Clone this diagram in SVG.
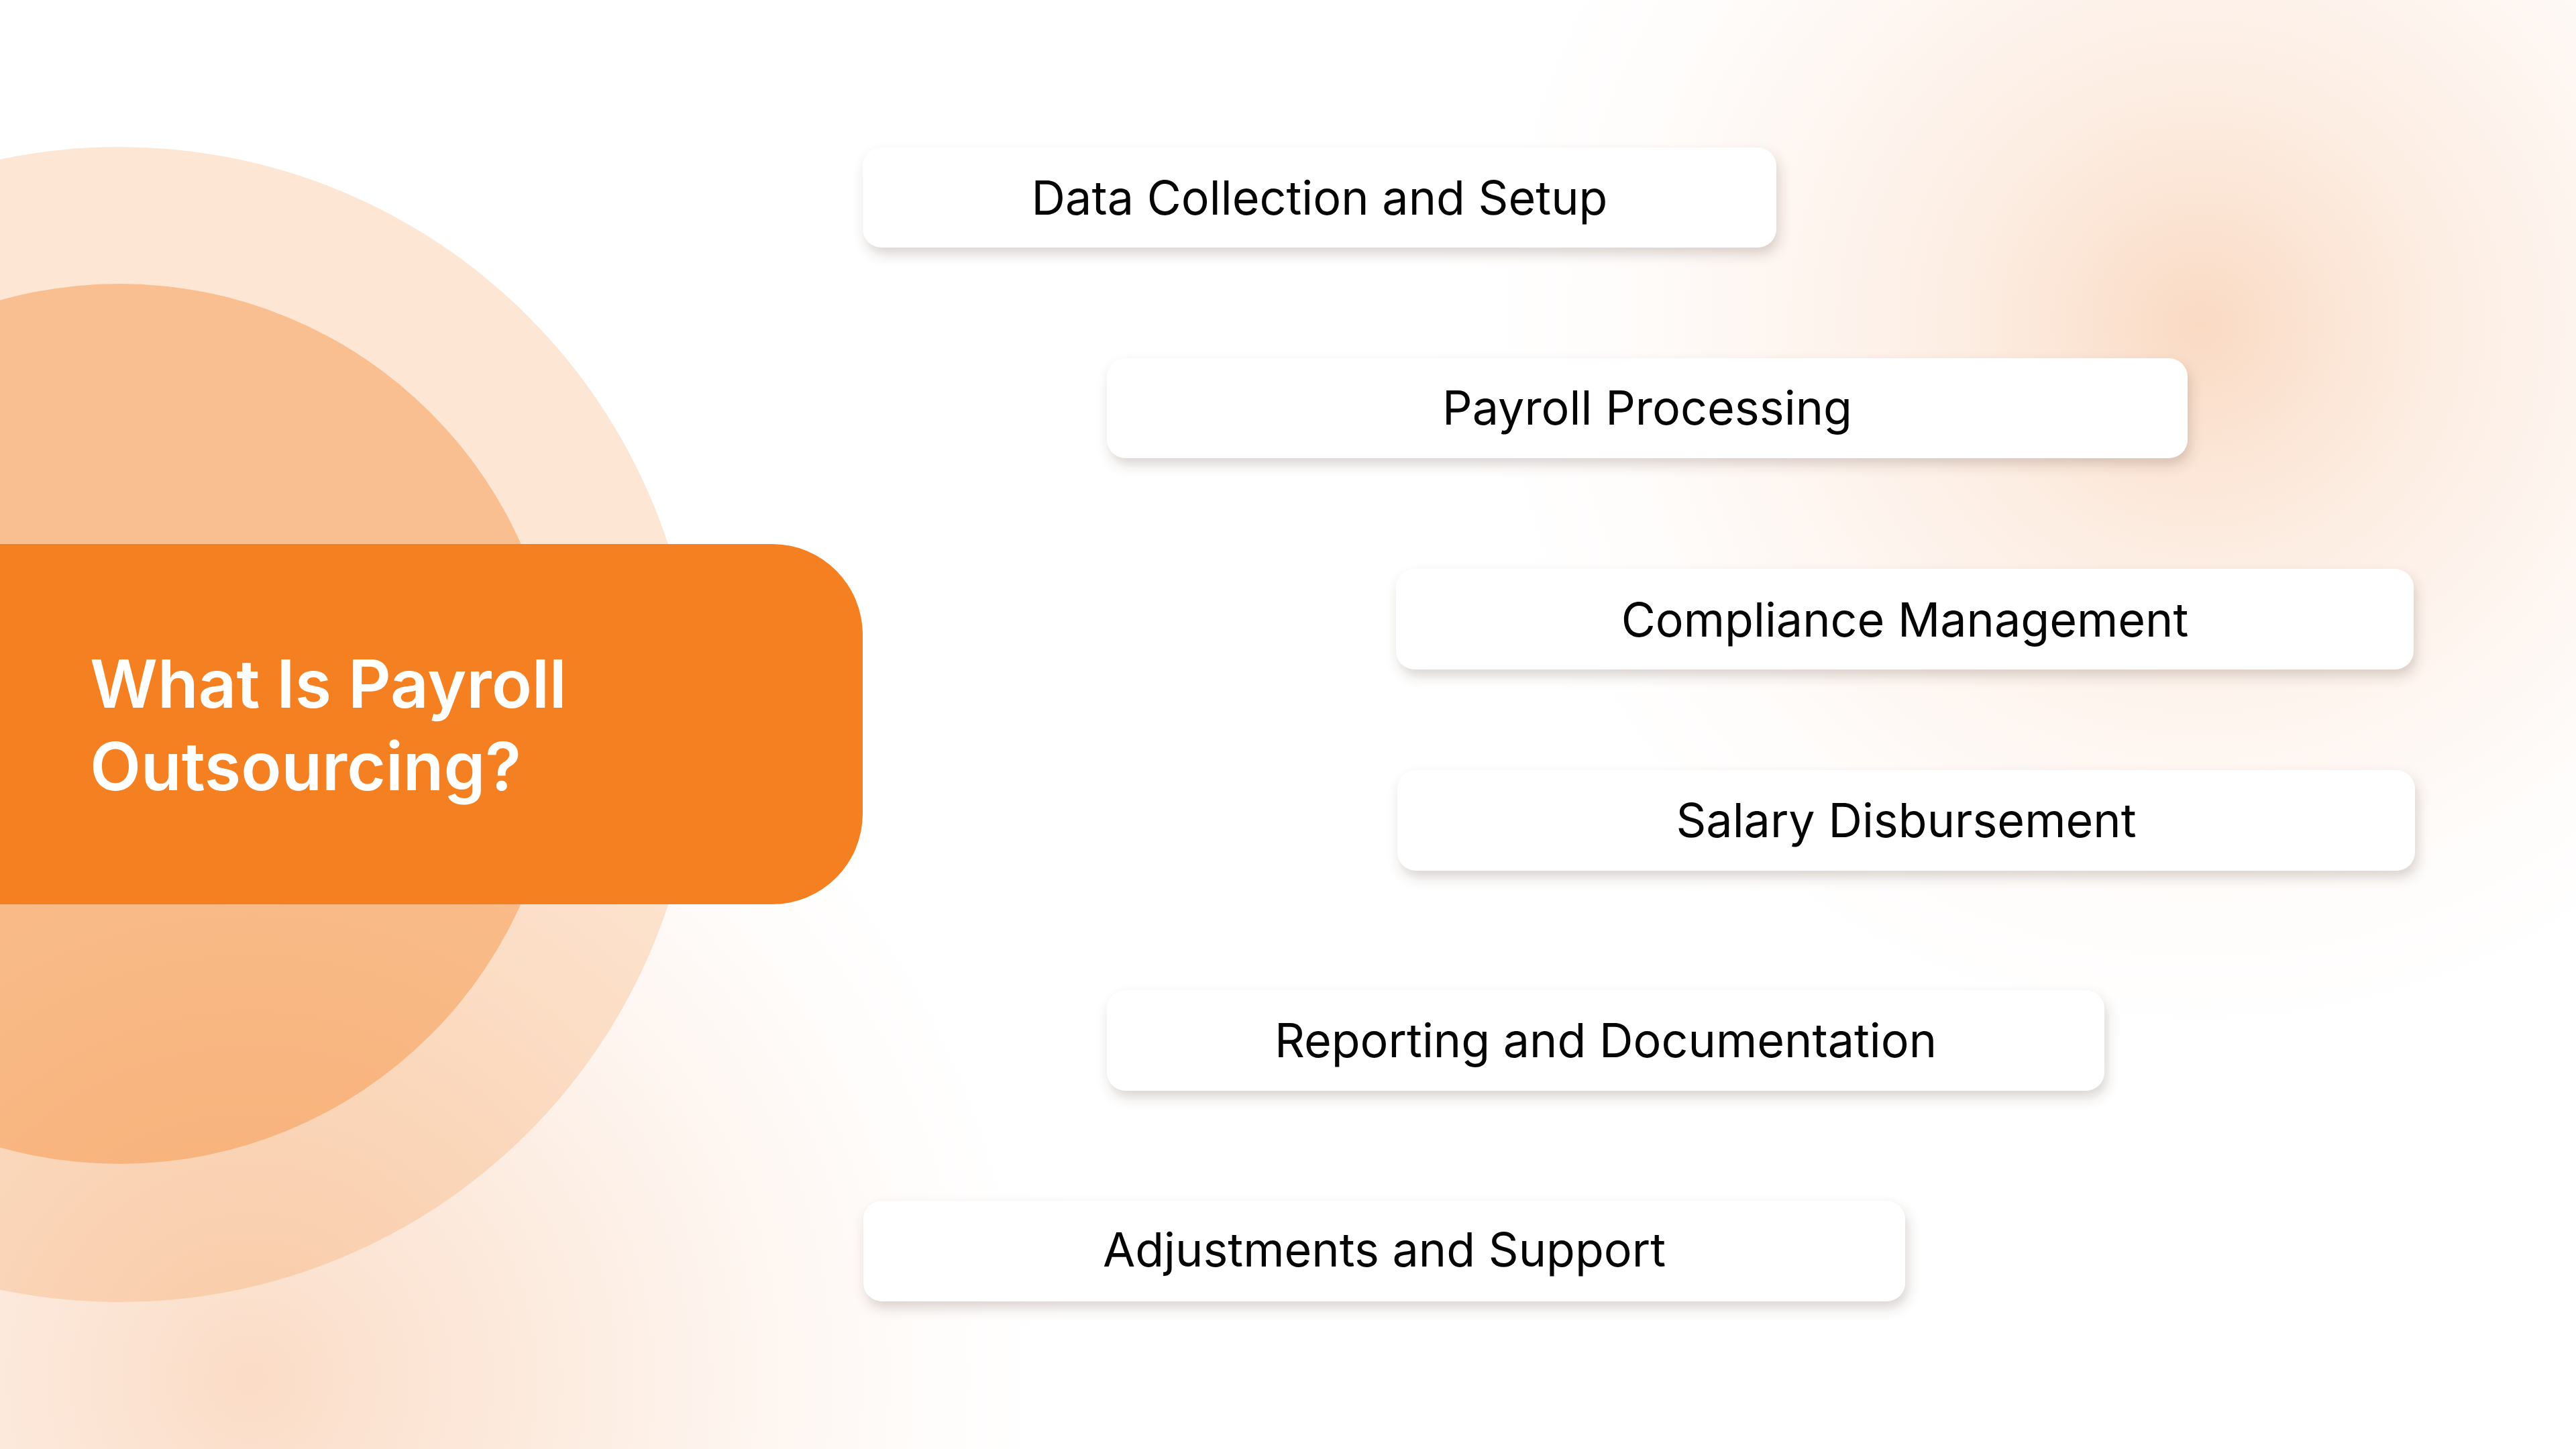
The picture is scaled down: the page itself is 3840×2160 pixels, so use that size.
<svg xmlns="http://www.w3.org/2000/svg" width="3840" height="2160" viewBox="0 0 3840 2160">
<defs>
<radialGradient id="glowTR" cx="3280" cy="485" r="1150" gradientUnits="userSpaceOnUse">
<stop offset="0" stop-color="#FADAC3" stop-opacity="1"/>
<stop offset="0.3" stop-color="#FCE8DA" stop-opacity="0.8"/>
<stop offset="0.65" stop-color="#FEF4EE" stop-opacity="0.55"/>
<stop offset="1" stop-color="#FFFFFF" stop-opacity="0"/>
</radialGradient>
<radialGradient id="glowBL" cx="373" cy="2055" r="1250" gradientUnits="userSpaceOnUse">
<stop offset="0" stop-color="#FBDCC6" stop-opacity="1"/>
<stop offset="0.4" stop-color="#FCE8DA" stop-opacity="0.8"/>
<stop offset="0.75" stop-color="#FEF4EE" stop-opacity="0.45"/>
<stop offset="1" stop-color="#FFFFFF" stop-opacity="0"/>
</radialGradient>
<filter id="shadow" x="-5%" y="-30%" width="110%" height="170%">
<feDropShadow dx="4" dy="10" stdDeviation="9" flood-color="#5a4030" flood-opacity="0.22"/>
</filter>
<style>
.box{fill:#FFFFFF;filter:url(#shadow);}
.lbl{font-family:Inter,"Noto Sans","Liberation Sans",sans-serif;font-size:70px;font-weight:400;fill:#050505;text-anchor:middle;}
.title{font-family:Inter,"Noto Sans","Liberation Sans",sans-serif;font-size:99px;font-weight:600;fill:#FFFFFF;}
</style>
</defs>
<rect x="0" y="0" width="3840" height="2160" fill="#FFFFFF"/>
<rect x="0" y="0" width="3840" height="2160" fill="url(#glowTR)"/>
<rect x="0" y="0" width="3840" height="2160" fill="url(#glowBL)"/>
<g id="circles">
<circle cx="178" cy="1080" r="861" fill="#F58022" fill-opacity="0.2"/>
<circle cx="178" cy="1079" r="656" fill="#F58022" fill-opacity="0.38"/>
</g>
<g id="title-node">
<path d="M0 811 H1151 A135 135 0 0 1 1286 946 V1213 A135 135 0 0 1 1151 1348 H0 Z" fill="#F58022"/>
<text class="title" x="134" y="1055">What Is Payroll</text>
<text class="title" x="134" y="1178">Outsourcing?</text>
</g>
<g id="connectors"></g>
<g id="node1">
<rect class="box" x="1286" y="220" width="1362" height="149" rx="28"/>
<text class="lbl" x="1967" y="320">Data Collection and Setup</text>
</g>
<g id="node2">
<rect class="box" x="1650" y="534" width="1611" height="149" rx="28"/>
<text class="lbl" x="2455.5" y="633">Payroll Processing</text>
</g>
<g id="node3">
<rect class="box" x="2081" y="848" width="1517" height="150" rx="28"/>
<text class="lbl" x="2839.5" y="949">Compliance Management</text>
</g>
<g id="node4">
<rect class="box" x="2083" y="1148" width="1517" height="150" rx="28"/>
<text class="lbl" x="2841.5" y="1248">Salary Disbursement</text>
</g>
<g id="node5">
<rect class="box" x="1650" y="1476" width="1487" height="150" rx="28"/>
<text class="lbl" x="2393.5" y="1576">Reporting and Documentation</text>
</g>
<g id="node6">
<rect class="box" x="1287" y="1790" width="1553" height="150" rx="28"/>
<text class="lbl" x="2063.5" y="1888">Adjustments and Support</text>
</g>
</svg>
